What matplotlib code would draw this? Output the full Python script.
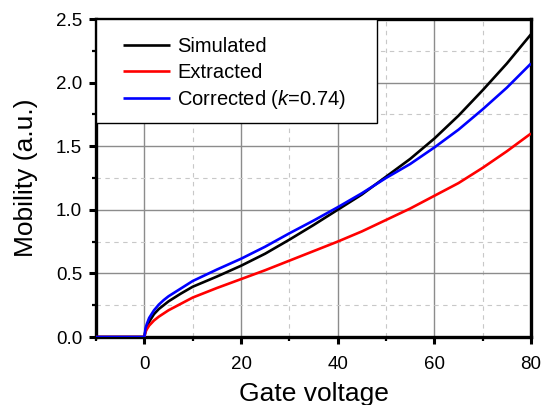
import matplotlib
matplotlib.use("Agg")
import matplotlib.pyplot as plt
from matplotlib.ticker import MultipleLocator, FormatStrFormatter
from matplotlib.patches import Rectangle

plt.rcParams["font.family"] = ["Liberation Sans", "DejaVu Sans"]
plt.rcParams["mathtext.fontset"] = "custom"
plt.rcParams["mathtext.rm"] = "Liberation Sans"
plt.rcParams["mathtext.it"] = "Liberation Sans:italic"

# Gate voltage samples
gate_voltage = [-10, 0, 0.25, 0.5, 1, 2, 3, 4, 5, 7.5, 10, 15, 20, 25, 30,
                35, 40, 45, 50, 55, 60, 65, 70, 75, 80]

# Mobility curves (a.u.)
simulated = [0.0, 0.0, 0.05, 0.08, 0.12, 0.18, 0.22, 0.25, 0.28, 0.34, 0.395,
             0.475, 0.56, 0.655, 0.765, 0.88, 1.00, 1.12, 1.26, 1.40, 1.56,
             1.74, 1.94, 2.15, 2.38]
extracted = [0.0, 0.0, 0.04, 0.06, 0.09, 0.13, 0.16, 0.185, 0.21, 0.26, 0.31,
             0.385, 0.455, 0.525, 0.60, 0.675, 0.75, 0.83, 0.92, 1.01, 1.11,
             1.21, 1.33, 1.46, 1.60]
corrected = [0.0, 0.0, 0.07, 0.10, 0.15, 0.21, 0.255, 0.29, 0.32, 0.38, 0.44,
             0.53, 0.615, 0.71, 0.815, 0.915, 1.02, 1.13, 1.25, 1.36, 1.49,
             1.63, 1.79, 1.96, 2.15]

labels = ["Simulated", "Extracted", "Corrected ($k$=0.74)"]
colors = ["black", "#ff0000", "#0000ff"]

x_ticks = [0, 20, 40, 60, 80]
y_ticks = [0.0, 0.5, 1.0, 1.5, 2.0, 2.5]

fig = plt.figure(figsize=(5.45, 4.05), dpi=100)
ax = fig.add_axes([96 / 545, 1 - 337 / 405, 435 / 545, 318 / 405])

for series, lab, col in zip([simulated, extracted, corrected], labels, colors):
    ax.plot(gate_voltage, series, color=col, lw=1.9, label=lab, zorder=3,
            solid_capstyle="butt", solid_joinstyle="round")

ax.set_xlim(-10, 80)
ax.set_ylim(0, 2.5)
ax.set_xticks(x_ticks)
ax.set_yticks(y_ticks)
ax.xaxis.set_minor_locator(MultipleLocator(10))
ax.yaxis.set_minor_locator(MultipleLocator(0.25))
ax.yaxis.set_major_formatter(FormatStrFormatter("%.1f"))

ax.grid(which="major", color="#8c8c8c", lw=1.0, ls="-", zorder=0)
ax.grid(which="minor", color="#c8c8c8", lw=0.8, ls=(0, (4, 4)), zorder=0)
ax.set_axisbelow(True)

for s in ax.spines.values():
    s.set_linewidth(2.4)
ax.tick_params(which="major", direction="out", length=5, width=2.2,
               labelsize=13.5, top=False, right=False)
ax.tick_params(which="minor", direction="out", length=3, width=1.6,
               top=False, right=False)
ax.tick_params(axis="y", which="major", pad=5)
ax.tick_params(axis="x", which="major", pad=9)

ax.set_xlabel("Gate voltage", fontsize=19, labelpad=6)
ax.set_ylabel("Mobility (a.u.)", fontsize=19, labelpad=13)

# Legend frame
ax.add_patch(Rectangle((0, 0.673), 0.646, 0.327, transform=ax.transAxes,
                       facecolor="white", edgecolor="black", lw=1.0,
                       zorder=4, clip_on=False))
leg = ax.legend(loc="upper left", bbox_to_anchor=(0.062, 0.943),
                frameon=False, fontsize=14.5, borderpad=0, borderaxespad=0,
                handlelength=2.33, handletextpad=0.35, labelspacing=0.32)
leg.set_zorder(5)
for h in leg.get_lines():
    h.set_linewidth(1.9)

fig.savefig("out.png", dpi=100)
